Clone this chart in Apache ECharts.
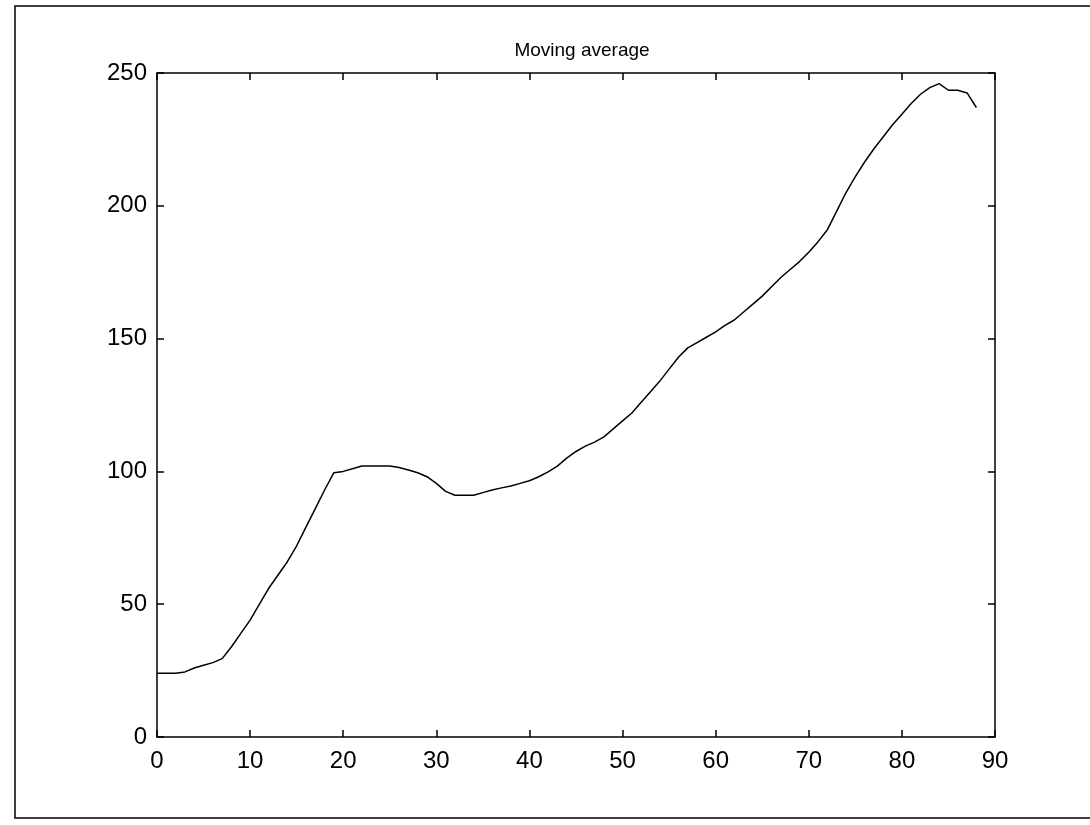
<!DOCTYPE html>
<html lang="en">
<head>
    <meta charset="UTF-8">
    <title>Moving average</title>
</head>
<style>
    body{
        margin: 0;
        padding: 0;
        background-color: #fff;
    }
    .main{
        width: 1090px;
        height: 825px;
    }
</style>
<body>
    <div class="main"></div>
</body>
<script src="https://cdn.jsdelivr.net/npm/echarts/dist/echarts.min.js"></script>
<script>
  // x positions of the moving average (sample index)
  var xs = [];
  for (var i = 0; i <= 88; i++) xs.push(i);
  // values
  var avgValues = [
    24,
    24, 24, 24.5, 26, 27, 28, 29.5, 34, 39, 44,
    50, 56, 61, 66, 72, 79, 86, 93, 99.5, 100,
    101, 102, 102, 102, 102, 101.5, 100.5, 99.5, 98, 95.5,
    92.5, 91, 91, 91, 92, 93, 93.8, 94.5, 95.5, 96.5,
    98, 99.8, 102, 105, 107.5, 109.5, 111, 113, 116, 119,
    122, 126, 130, 134, 138.5, 143, 146.5, 148.5, 150.5, 152.5,
    155, 157, 160, 163, 166, 169.5, 173, 176, 179, 182.5,
    186.5, 191, 198, 205, 211, 216.5, 221.5, 226, 230.5, 234.5,
    238.5, 242, 244.5, 246, 243.5, 243.5, 242.5, 237
  ];
  var xTicks = [0, 10, 20, 30, 40, 50, 60, 70, 80, 90];
  var yTicks = [0, 50, 100, 150, 200, 250];

  var lineData = xs.map(function (x, k) { return [x, avgValues[k]]; });

  var myChart = echarts.init(document.querySelector('.main'));
  var font = "'Liberation Sans', Arial, sans-serif";
  var axisLine = { show: true, onZero: false, lineStyle: { color: '#000', width: 1.5 } };
  var tick = { show: true, inside: true, length: 7, lineStyle: { color: '#000', width: 1.5 } };

  var option = {
    backgroundColor: '#fff',
    animation: false,
    title: {
      text: 'Moving average',
      left: 577,
      textAlign: 'center',
      top: 36,
      textStyle: { fontFamily: font, fontSize: 19, fontWeight: 'normal', color: '#000' }
    },
    grid: { left: 157, right: 95, top: 73, bottom: 88 },
    xAxis: [{
      type: 'value', min: 0, max: 90, interval: 10,
      axisLine: axisLine, axisTick: tick, splitLine: { show: false },
      axisLabel: { margin: 12, fontFamily: font, fontSize: 24, color: '#000' }
    }, {
      type: 'value', position: 'top', min: 0, max: 90, interval: 10,
      axisLine: axisLine, axisTick: tick, splitLine: { show: false },
      axisLabel: { show: false }
    }],
    yAxis: [{
      type: 'value', min: 0, max: 250, interval: 50,
      axisLine: axisLine, axisTick: tick, splitLine: { show: false },
      axisLabel: { margin: 10, fontFamily: font, fontSize: 24, color: '#000' }
    }, {
      type: 'value', position: 'right', min: 0, max: 250, interval: 50,
      axisLine: axisLine, axisTick: tick, splitLine: { show: false },
      axisLabel: { show: false }
    }],
    graphic: [{
      type: 'rect',
      shape: { x: 15, y: 6, width: 1100, height: 812 },
      style: { fill: 'none', stroke: '#000', lineWidth: 1.5 },
      silent: true
    }],
    series: [{
      type: 'line',
      data: lineData,
      showSymbol: false,
      lineStyle: { color: '#000', width: 1.5 }
    }]
  };
  myChart.setOption(option);
</script>
</html>
